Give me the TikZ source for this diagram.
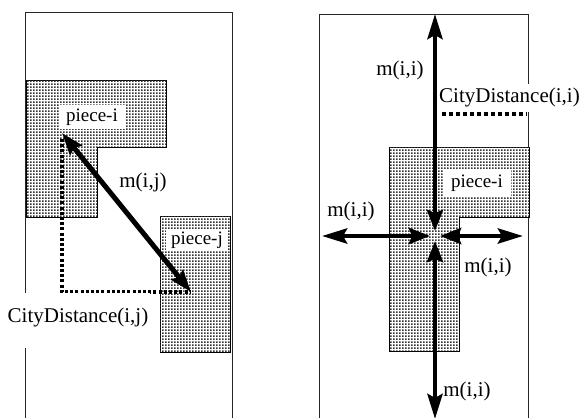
\documentclass[tikz,border=0pt]{standalone}
\usepackage{fontspec}
\setmainfont{Liberation Serif}
\usetikzlibrary{arrows.meta,patterns,calc}
\pgfdeclarepatternformonly{stipple}{\pgfqpoint{0pt}{0pt}}{\pgfqpoint{3pt}{3pt}}{\pgfqpoint{3pt}{3pt}}{%
  \pgfpathrectangle{\pgfqpoint{0pt}{0pt}}{\pgfqpoint{2pt}{2pt}}\pgfusepath{fill}}
\tikzset{
  frame/.style={draw=black!85, line width=1pt},
  piece/.style={draw=black, line width=1pt, fill=white, postaction={pattern=stipple, pattern color=black!80}},
  lbl/.style={inner sep=1pt, font=\fontsize{21}{25}\selectfont},
  plbl/.style={fill=white, inner xsep=7pt, inner ysep=4pt, font=\fontsize{19}{22}\selectfont},
  dotline/.style={line width=3.5pt, dash pattern=on 3pt off 2.2pt},
  bigarrow/.style={line width=5pt, {Stealth[length=22pt,width=15pt,inset=3pt]}-{Stealth[length=22pt,width=15pt,inset=3pt]}},
  arm/.style={line width=4.5pt, {Stealth[length=21pt,width=16pt,inset=3pt]}-{Stealth[length=25pt,width=15pt,inset=4pt]}, shorten <=5pt}
}
\begin{document}
\begin{tikzpicture}[x=1pt,y=-1pt]
\useasboundingbox (0,0) rectangle (582,418);
\fill[white] (0,0) rectangle (582,418);
% ---------- left panel ----------
\draw[frame] (25,420) -- (25,12) -- (232,12) -- (232,420);
\draw[piece] (26,80) -- (166,80) -- (166,147) -- (97,147) -- (97,217) -- (26,217) -- cycle;
\draw[piece] (160,216) rectangle (230,352);
\node[plbl] (pi) at (92,117) {piece-i};
\node[plbl, inner xsep=5pt, inner ysep=2pt] (pj) at (197,240) {piece-j};
\coordinate (ia) at (62,133);
\coordinate (ja) at (191,292);
\draw[dotline] ($(ia)+(0,6)$) |- (ja);
\node[lbl, fill=white, inner xsep=2pt, inner ysep=2pt, text height=27pt, text depth=24pt, anchor=base] (cdj) at (78,322) {CityDistance(i,j)};
\draw[bigarrow] (ia) -- (ja);
\node[lbl] (mij) at (143,182) {m(i,j)};
% ---------- right panel ----------
\draw[frame] (319,420) -- (319,14) -- (528,14) -- (528,420);
\draw[piece] (389,147) -- (529,147) -- (529,217) -- (459,217) -- (459,351) -- (389,351) -- cycle;
\node[plbl, inner xsep=8pt, inner ysep=5pt] (pii) at (477,183) {piece-i};
\node[lbl, fill=white, inner xsep=1pt, inner ysep=2pt, text height=16pt, text depth=8pt, anchor=base west] (cdi) at (438,102) {CityDistance(i,i)};
\coordinate (dl) at (442,114);
\coordinate (dr) at (527,114);
\draw[line width=3.5pt, dash pattern=on 3.5pt off 3.5pt] (dl) -- (dr);
\coordinate (c) at (435,236);
\coordinate (up) at (435,14);
\coordinate (dn) at (435,419);
\coordinate (lf) at (322,236);
\coordinate (rt) at (523,236);
\draw[arm] (c) -- (up);
\draw[arm] (c) -- (dn);
\draw[arm] (c) -- (lf);
\draw[arm] (c) -- (rt);
\node[lbl] (m1) at (400,70) {m(i,i)};
\node[lbl] (m2) at (351,211) {m(i,i)};
\node[lbl] (m3) at (488,267) {m(i,i)};
\node[lbl] (m4) at (467,391) {m(i,i)};
\end{tikzpicture}
\end{document}
